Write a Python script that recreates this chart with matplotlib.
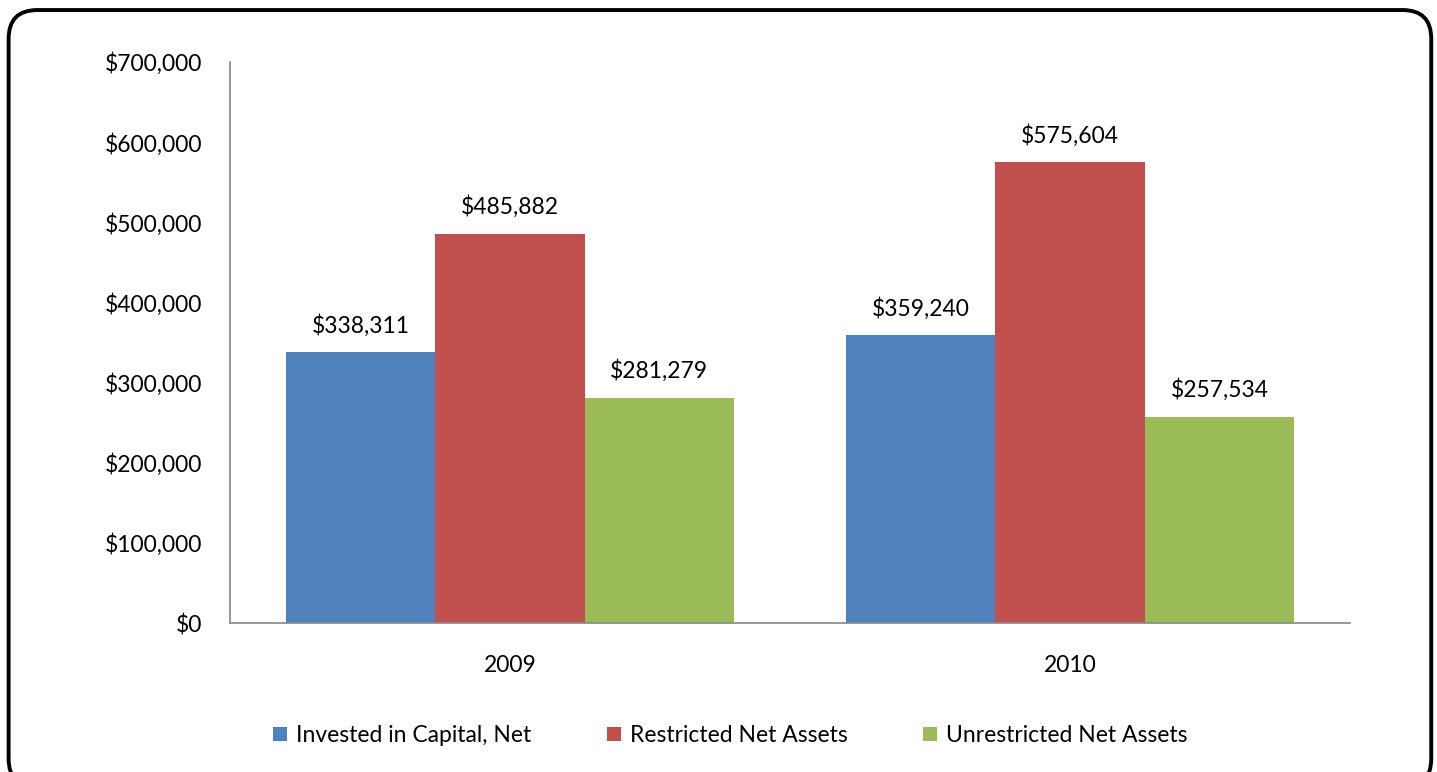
import matplotlib.pyplot as plt
import numpy as np
from matplotlib.patches import FancyBboxPatch

# chart data
years = ["2009", "2010"]
series_names = ["Invested in Capital, Net", "Restricted Net Assets", "Unrestricted Net Assets"]
invested = [338311, 359240]
restricted = [485882, 575604]
unrestricted = [281279, 257534]
colors = ["#4F81BD", "#C0504D", "#9BBB59"]

plt.rcParams['font.family'] = ['Lato', 'DejaVu Sans']
fs = 16.5

fig = plt.figure(figsize=(14.37, 7.72), dpi=100)
ax = fig.add_axes([0.160, 0.193, 0.7795, 0.7267])

# rounded frame around the whole picture
frame = FancyBboxPatch((0.006, -0.02), 0.99, 1.007, boxstyle="round,pad=0,rounding_size=0.02",
                       transform=fig.transFigure, fill=False, edgecolor="black", linewidth=2.8,
                       mutation_aspect=1437 / 772)
fig.patches.append(frame)

x = np.arange(len(years))
width = 0.2667
for i, (vals, name) in enumerate(zip([invested, restricted, unrestricted], series_names)):
    pos = x + (i - 1) * width
    ax.bar(pos, vals, width, color=colors[i], label=name)
    for px, v in zip(pos, vals):
        ax.annotate(f"${v:,}", (px, v), xytext=(0, 11), textcoords="offset points",
                    ha="center", va="bottom", fontsize=fs)

ax.set_xlim(-0.5, 1.5)
ax.set_ylim(0, 700000)
ax.set_yticks(np.arange(0, 700001, 100000))
ax.yaxis.set_major_formatter(plt.FuncFormatter(lambda v, p: f"${int(v):,}"))
ax.set_xticks(x)
ax.set_xticklabels(years)
ax.tick_params(axis="both", length=0, labelsize=fs)
ax.tick_params(axis="y", pad=20)
ax.tick_params(axis="x", pad=23)
for s in ["top", "right"]:
    ax.spines[s].set_visible(False)
for s in ["left", "bottom"]:
    ax.spines[s].set_color("#888888")
    ax.spines[s].set_linewidth(1.2)

ax.legend(loc="upper center", bbox_to_anchor=(0.447, -0.145), ncol=3, frameon=False,
          fontsize=fs, handlelength=0.6, handleheight=0.6, handletextpad=0.4, columnspacing=3.3)

fig.savefig("out.png", dpi=100)
